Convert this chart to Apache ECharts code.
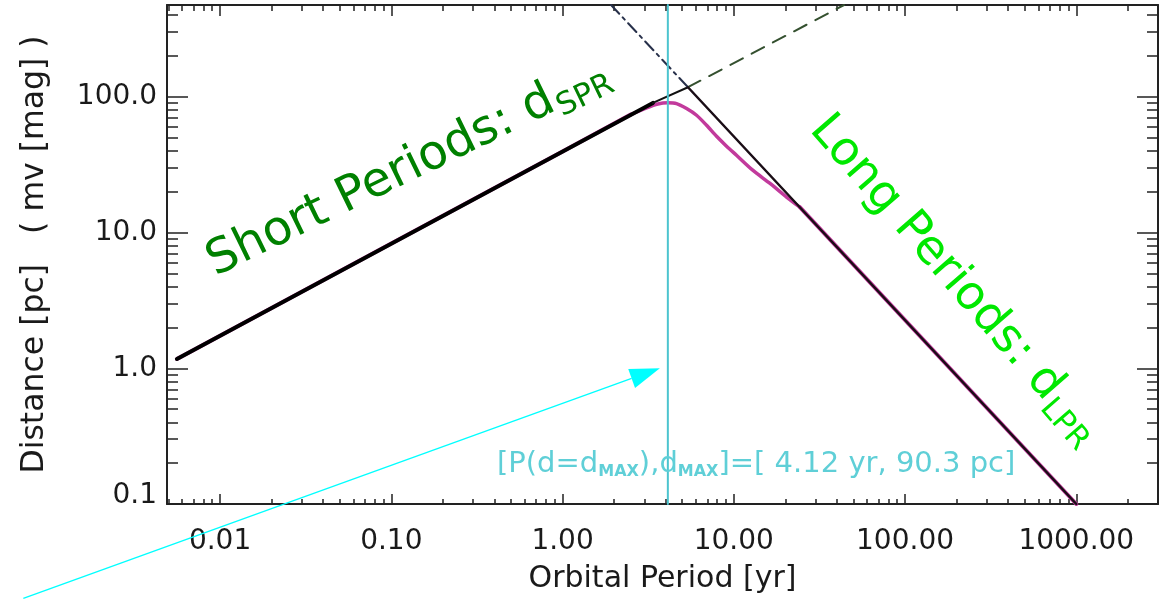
<!DOCTYPE html>
<html>
<head>
<meta charset="utf-8">
<script src="https://cdn.jsdelivr.net/npm/echarts@6/dist/echarts.min.js"></script>
<style>
  html, body { margin: 0; padding: 0; background: #fff; }
  #chart { width: 1170px; height: 599px; }
</style>
</head>
<body>
<div id="chart"></div>
<script>
// ---------------- data ----------------
const xMin = 0.0049, xMax = 3000;
const yMin = 0.1, yMax = 475;

const xMajor = [0.01, 0.1, 1, 10, 100, 1000];
const xTickLabels = ['0.01', '0.10', '1.00', '10.00', '100.00', '1000.00'];
const xMinor = [0.005, 0.006, 0.007, 0.008, 0.009,
  0.02, 0.03, 0.04, 0.05, 0.06, 0.07, 0.08, 0.09,
  0.2, 0.3, 0.4, 0.5, 0.6, 0.7, 0.8, 0.9,
  2, 3, 4, 5, 6, 7, 8, 9,
  20, 30, 40, 50, 60, 70, 80, 90,
  200, 300, 400, 500, 600, 700, 800, 900,
  2000, 3000];

const yMajor = [0.1, 1, 10, 100];
const yTickLabels = ['0.1', '1.0', '10.0', '100.0'];
const yMinor = [0.2, 0.3, 0.4, 0.5, 0.6, 0.7, 0.8, 0.9,
  2, 3, 4, 5, 6, 7, 8, 9,
  20, 30, 40, 50, 60, 70, 80, 90,
  200, 300, 400];

// magenta (total distance) curve: rising branch, turnover, falling branch
const magentaRiseP = [0.0056, 0.1, 1, 2.5];
const magentaRiseD = [1.17, 8.3, 39.5, 74];
const magentaPeakP = [2.5, 3.1, 3.6, 4.12, 4.63, 5.3, 6.06, 6.93, 7.93, 9.07, 10.37, 12.9, 16.2, 20.4, 24.3];
const magentaPeakD = [74, 83, 88.5, 90.3, 89.2, 82.0, 73.2, 61.8, 51.2, 43.3, 37.1, 28.8, 23.1, 18.2, 15.4];
const magentaFallP = [24.3, 1000];
const magentaFallD = [15.4, 0.1];

// short period regime line d_SPR
const sprThickP = [0.0056, 3.37];
const sprThickD = [1.17, 90.2];
const sprThinP = [3.37, 5.4];
const sprThinD = [90.2, 117.7];
const sprDashP = [5.4, 44];
const sprDashD = [117.7, 475];

// long period regime line d_LPR
const lprDashDotP = [1.92, 5.4];
const lprDashDotD = [475, 117.7];
const lprSolidP = [5.4, 1000];
const lprSolidD = [117.7, 0.1];

// maximum
const pMax = 4.12;
const dMax = 90.3;
const maxLineD = [0.1, 475];

// arrow annotation (data coordinates)
const arrowFrom = [0.00071, 0.0202];
const arrowTo = [3.7, 1.0];

// ---------------- helpers ----------------
function zip(a, b) { return a.map((v, i) => [v, b[i]]); }
function labelFor(v, vals, labels) {
  for (let i = 0; i < vals.length; i++) {
    if (Math.abs(Math.log10(v) - Math.log10(vals[i])) < 1e-6) return labels[i];
  }
  return '';
}
function textW(str, font) {
  const c = document.createElement('canvas').getContext('2d');
  c.font = font; return c.measureText(str).width;
}

const FONT = '"DejaVu Sans", sans-serif';
const AX = '#222';
const TXT = '#1a1a1a';
const CYAN_TXT = '#5fcfd7';
const MAG = '#c23a9c';
const grid = { left: 167, right: 12, top: 5, bottom: 95 };

function xAx(gi, pos, ticks, len, withLine, withLabel) {
  const a = {
    type: 'log', logBase: 10, gridIndex: gi, position: pos, min: xMin, max: xMax,
    axisLine: { show: withLine, lineStyle: { color: AX, width: 2 } },
    axisTick: { show: true, inside: true, length: len, customValues: ticks, lineStyle: { color: AX, width: 1.5 } },
    axisLabel: { show: withLabel },
    splitLine: { show: false }, minorTick: { show: false }
  };
  if (withLabel) {
    a.axisLabel = {
      show: true, customValues: xMajor, margin: 24,
      fontFamily: FONT, fontSize: 28, color: TXT,
      formatter: v => labelFor(v, xMajor, xTickLabels)
    };
    a.name = 'Orbital Period [yr]';
    a.nameLocation = 'middle';
    a.nameGap = 60;
    a.nameTextStyle = { fontFamily: FONT, fontSize: 30, color: TXT };
  }
  return a;
}
function yAx(gi, pos, ticks, len, withLine, withLabel) {
  const a = {
    type: 'log', logBase: 10, gridIndex: gi, position: pos, min: yMin, max: yMax,
    axisLine: { show: withLine, lineStyle: { color: AX, width: 2 } },
    axisTick: { show: true, inside: true, length: len, customValues: ticks, lineStyle: { color: AX, width: 1.5 } },
    axisLabel: { show: withLabel },
    splitLine: { show: false }, minorTick: { show: false }
  };
  if (withLabel) {
    a.axisLabel = {
      show: true, customValues: yMajor, margin: 10,
      fontFamily: FONT, fontSize: 28, color: TXT,
      formatter: v => {
        const s = labelFor(v, yMajor, yTickLabels);
        return v < 0.5 ? '{lo|' + s + '}' : s;
      },
      rich: { lo: { fontFamily: FONT, fontSize: 28, color: TXT, padding: [0, 0, 16, 0] } }
    };
    a.name = 'Distance [pc]   ( mv [mag] )';
    a.nameLocation = 'middle';
    a.nameGap = 116;
    a.nameTextStyle = { fontFamily: FONT, fontSize: 31.5, color: TXT };
  }
  return a;
}

function lineSeries(p, d, color, width, type, z, smooth) {
  return {
    type: 'line', xAxisIndex: 0, yAxisIndex: 0, data: zip(p, d),
    symbol: 'none', showSymbol: false, z: z, silent: true, animation: false,
    smooth: smooth || false,
    lineStyle: { color: color, width: width, type: type, cap: 'round', join: 'round' }
  };
}

// texts with subscripts
function subText(x, y, rotDeg, main, sub, size, subSize, dy, color) {
  const f1 = size + 'px ' + FONT;
  const w = textW(main, f1);
  return {
    type: 'group', x: x, y: y, rotation: rotDeg * Math.PI / 180, z: 50,
    children: [
      { type: 'text', x: 0, y: 0, style: { text: main, font: f1, fill: color, align: 'left', verticalAlign: 'middle', textAlign: 'left', textVerticalAlign: 'middle' } },
      { type: 'text', x: w + 1, y: dy, style: { text: sub, font: subSize + 'px ' + FONT, fill: color, align: 'left', verticalAlign: 'middle', textAlign: 'left', textVerticalAlign: 'middle' } }
    ]
  };
}

const cyanText = {
  type: 'text', x: 497, y: 464, z: 50,
  style: {
    text: '{n|[P(d=d}{s|MAX}{n|),d}{s|MAX}{n|]=[ 4.12 yr, 90.3 pc]}',
    fill: CYAN_TXT,
    align: 'left', verticalAlign: 'middle', textAlign: 'left', textVerticalAlign: 'middle',
    rich: {
      n: { fontFamily: FONT, fontSize: 29, fill: CYAN_TXT, lineHeight: 31, verticalAlign: 'middle' },
      s: { fontFamily: FONT, fontSize: 16, fontWeight: 'bold', fill: CYAN_TXT, lineHeight: 17, verticalAlign: 'bottom' }
    }
  }
};

const option = {
  animation: false,
  backgroundColor: '#ffffff',
  grid: [grid, grid, grid, grid].map(g => Object.assign({ containLabel: false }, g)),
  xAxis: [
    xAx(0, 'bottom', xMajor, 10, true, true),
    xAx(1, 'bottom', xMinor, 5, false, false),
    xAx(2, 'top', xMajor, 11, true, false),
    xAx(3, 'top', xMinor, 6, false, false)
  ],
  yAxis: [
    yAx(0, 'left', yMajor, 21, true, true),
    yAx(1, 'left', yMinor, 11, false, false),
    yAx(2, 'right', yMajor, 21, true, false),
    yAx(3, 'right', yMinor, 11, false, false)
  ],
  series: [
    lineSeries(magentaRiseP, magentaRiseD, MAG, 4, 'solid', 3),
    lineSeries(magentaPeakP, magentaPeakD, MAG, 3.5, 'solid', 3, 0.25),
    lineSeries(magentaFallP, magentaFallD, MAG, 4, 'solid', 3),
    lineSeries(sprThickP, sprThickD, '#000000', 4, 'solid', 4),
    lineSeries(sprThinP, sprThinD, '#111111', 2, 'solid', 4),
    lineSeries(sprDashP, sprDashD, '#34502f', 2, [14, 10], 4),
    lineSeries(lprDashDotP, lprDashDotD, '#27304a', 2, [12, 5, 3, 5], 4),
    lineSeries(lprSolidP, lprSolidD, '#1a0d16', 2.5, 'solid', 5),
    lineSeries([pMax, pMax], maxLineD, '#4cc4cf', 2, 'solid', 6)
  ],
  graphic: [
    subText(210, 265, 26, 'Short Periods: d', 'SPR', 48, 31, 13, '#008000'),
    subText(818, 122, -49, 'Long Periods: d', 'LPR', 47, 31, 13, '#00e800'),
    cyanText
  ]
};

const chart = echarts.init(document.getElementById('chart'), null, { renderer: 'canvas' });
chart.setOption(option);

// arrow: positions derived from data coordinates through the axes
const a0 = chart.convertToPixel({ gridIndex: 0 }, arrowFrom);
const a1 = chart.convertToPixel({ gridIndex: 0 }, arrowTo);
const dx = a1[0] - a0[0], dy = a1[1] - a0[1];
const L = Math.sqrt(dx * dx + dy * dy);
const ux = dx / L, uy = dy / L;
const headLen = 30, headHalf = 10;
const bx = a1[0] - ux * headLen, by = a1[1] - uy * headLen;
chart.setOption({
  graphic: option.graphic.concat([
    { type: 'line', z: 60, shape: { x1: a0[0], y1: a0[1], x2: bx, y2: by }, style: { stroke: '#00ffff', lineWidth: 1.3 } },
    { type: 'polygon', z: 60, shape: { points: [[a1[0], a1[1]], [bx - uy * headHalf, by + ux * headHalf], [bx + uy * headHalf, by - ux * headHalf]] }, style: { fill: '#00ffff' } }
  ])
}, { replaceMerge: ['graphic'] });
</script>
</body>
</html>
